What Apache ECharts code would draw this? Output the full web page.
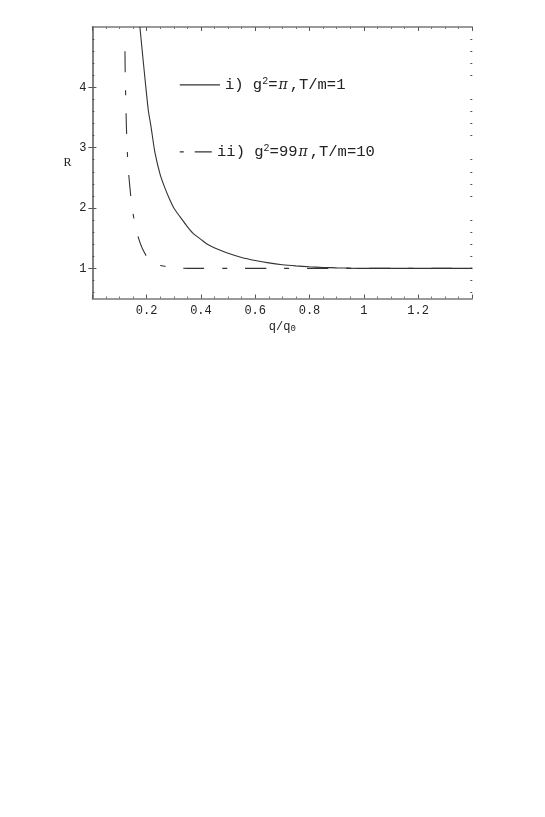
<!DOCTYPE html>
<html>
<head>
<meta charset="utf-8">
<script src="https://cdn.jsdelivr.net/npm/echarts@6/dist/echarts.min.js"></script>
<style>
html,body{margin:0;padding:0;background:#fff;}
#c{width:545px;height:817px;}
</style>
</head>
<body>
<div id="c"></div>
<script>
// ---- data ----
const curveI_q = [0.175,0.187,0.197,0.206,0.216,0.230,0.250,0.270,0.286,0.300,0.322,0.345,0.371,0.400,0.427,0.460,0.500,0.550,0.600,0.650,0.700,0.750,0.800,0.850,0.900,0.950,1.000,1.200,1.400];
const curveI_R = [5.00,4.45,4.00,3.62,3.35,2.93,2.55,2.30,2.13,2.00,1.86,1.72,1.58,1.48,1.39,1.32,1.25,1.18,1.13,1.09,1.06,1.04,1.025,1.015,1.008,1.003,1.000,1.000,1.000];
const curveII_q = [0.120,0.121,0.123,0.125,0.128,0.132,0.138,0.145,0.152,0.160,0.170,0.185,0.209,0.240,0.273,0.300,0.350,0.500,0.700,1.000,1.400];
const curveII_R = [4.60,4.20,3.80,3.40,3.00,2.66,2.35,2.05,1.85,1.67,1.50,1.32,1.14,1.06,1.03,1.01,1.00,1.00,1.00,1.00,1.00];
const legendKeyI_q = [0.322,0.470];
const legendKeyI_R = [4.04,4.04];
const legendKeyII_q = [0.322,0.441];
const legendKeyII_R = [2.93,2.93];
const labelI = 'i) g{sup|2}={pi|π},T/m=1';
const labelII = 'ii) g{sup|2}=99{pi|π},T/m=10';
const yMajor = [1,2,3,4];
const yMinor = [0.6,0.8,1.2,1.4,1.6,1.8,2.2,2.4,2.6,2.8,3.2,3.4,3.6,3.8,4.2,4.4,4.6,4.8];

const zip = (a,b)=>a.map((v,i)=>[v,b[i]]);
const FONT = '"Liberation Mono", "DejaVu Sans Mono", monospace';
const FRAME = '#7a7a7a';
const LINE = '#333';

const chart = echarts.init(document.getElementById('c'), null, {renderer:'canvas'});

function xAx(pos, labels){
  return {
    type:'value', position:pos, min:0, max:1.4, interval:0.2,
    axisLine:{show:true, lineStyle:{color:FRAME, width:1.5}},
    axisTick:{show:true, inside:true, length:4, lineStyle:{color:'#555'}},
    minorTick:{show:true, splitNumber:4, length:2, lineStyle:{color:'#777'}},
    splitLine:{show:false}, minorSplitLine:{show:false},
    axisLabel:{show:labels, margin:6, color:'#222', fontFamily:FONT, fontSize:12,
      formatter:v=> (Math.abs(v)<1e-9 || Math.abs(v-1.4)<1e-9) ? '' : String(+v.toFixed(2))},
    name: labels ? 'q/q{sub|0}' : '',
    nameLocation:'middle', nameGap:21,
    nameTextStyle:{color:'#222', fontFamily:FONT, fontSize:12,
      rich:{sub:{fontFamily:FONT, fontSize:9, verticalAlign:'bottom', padding:[5,0,0,0], color:'#222'}}}
  };
}
function yAx(pos, major, labels){
  return {
    type:'value', position:pos, min:0.5, max:5,
    axisLine:{show:major, lineStyle:{color:FRAME, width:1.5}},
    axisTick:{show:true, inside:true, length: major?4:2, customValues: major?yMajor:yMinor, lineStyle:{color:'#555'}},
    splitLine:{show:false},
    axisLabel:{show:labels, customValues: yMajor, margin:6, color:'#222', fontFamily:FONT, fontSize:12},
    name: labels ? 'R' : '',
    nameLocation:'middle', nameGap:21, nameRotate:0,
    nameTextStyle:{color:'#222', fontFamily:'"Liberation Serif", serif', fontSize:12}
  };
}

const richLbl = {
  sup:{fontFamily:FONT, fontSize:10, verticalAlign:'top', padding:[0,0,8,0], color:'#222'},
  pi:{fontFamily:'"DejaVu Serif", serif', fontStyle:'italic', fontSize:14, padding:[0,2,0,1], color:'#222'}
};

chart.setOption({
  animation:false,
  backgroundColor:'#fff',
  grid:{left:92.4, right:72.7, top:27, bottom:518.5, containLabel:false},
  xAxis:[xAx('bottom', true), xAx('top', false)],
  yAxis:[yAx('left', true, true), yAx('right', true, false), yAx('left', false, false), yAx('right', false, false)],
  series:[
    {type:'line', xAxisIndex:0, yAxisIndex:0, data:zip(curveI_q, curveI_R), showSymbol:false, smooth:0.25,
      clip:true, lineStyle:{color:LINE, width:1.1}},
    {type:'line', xAxisIndex:0, yAxisIndex:0, data:zip(curveII_q, curveII_R), showSymbol:false, smooth:0.25,
      clip:true, lineStyle:{color:LINE, width:1.1, type:[21,18,5,18]}},
    {type:'line', xAxisIndex:0, yAxisIndex:0, data:zip(legendKeyI_q, legendKeyI_R), showSymbol:false,
      lineStyle:{color:LINE, width:1.1},
      endLabel:{show:true, distance:5, formatter:()=>labelI, color:'#222', fontFamily:FONT, fontSize:15.5, rich:richLbl}},
    {type:'line', xAxisIndex:0, yAxisIndex:0, data:zip(legendKeyII_q, legendKeyII_R), showSymbol:false,
      lineStyle:{color:LINE, width:1.1, type:[4,11,17,200]},
      endLabel:{show:true, distance:5, formatter:()=>labelII, color:'#222', fontFamily:FONT, fontSize:15.5, rich:richLbl}}
  ]
});
</script>
</body>
</html>
